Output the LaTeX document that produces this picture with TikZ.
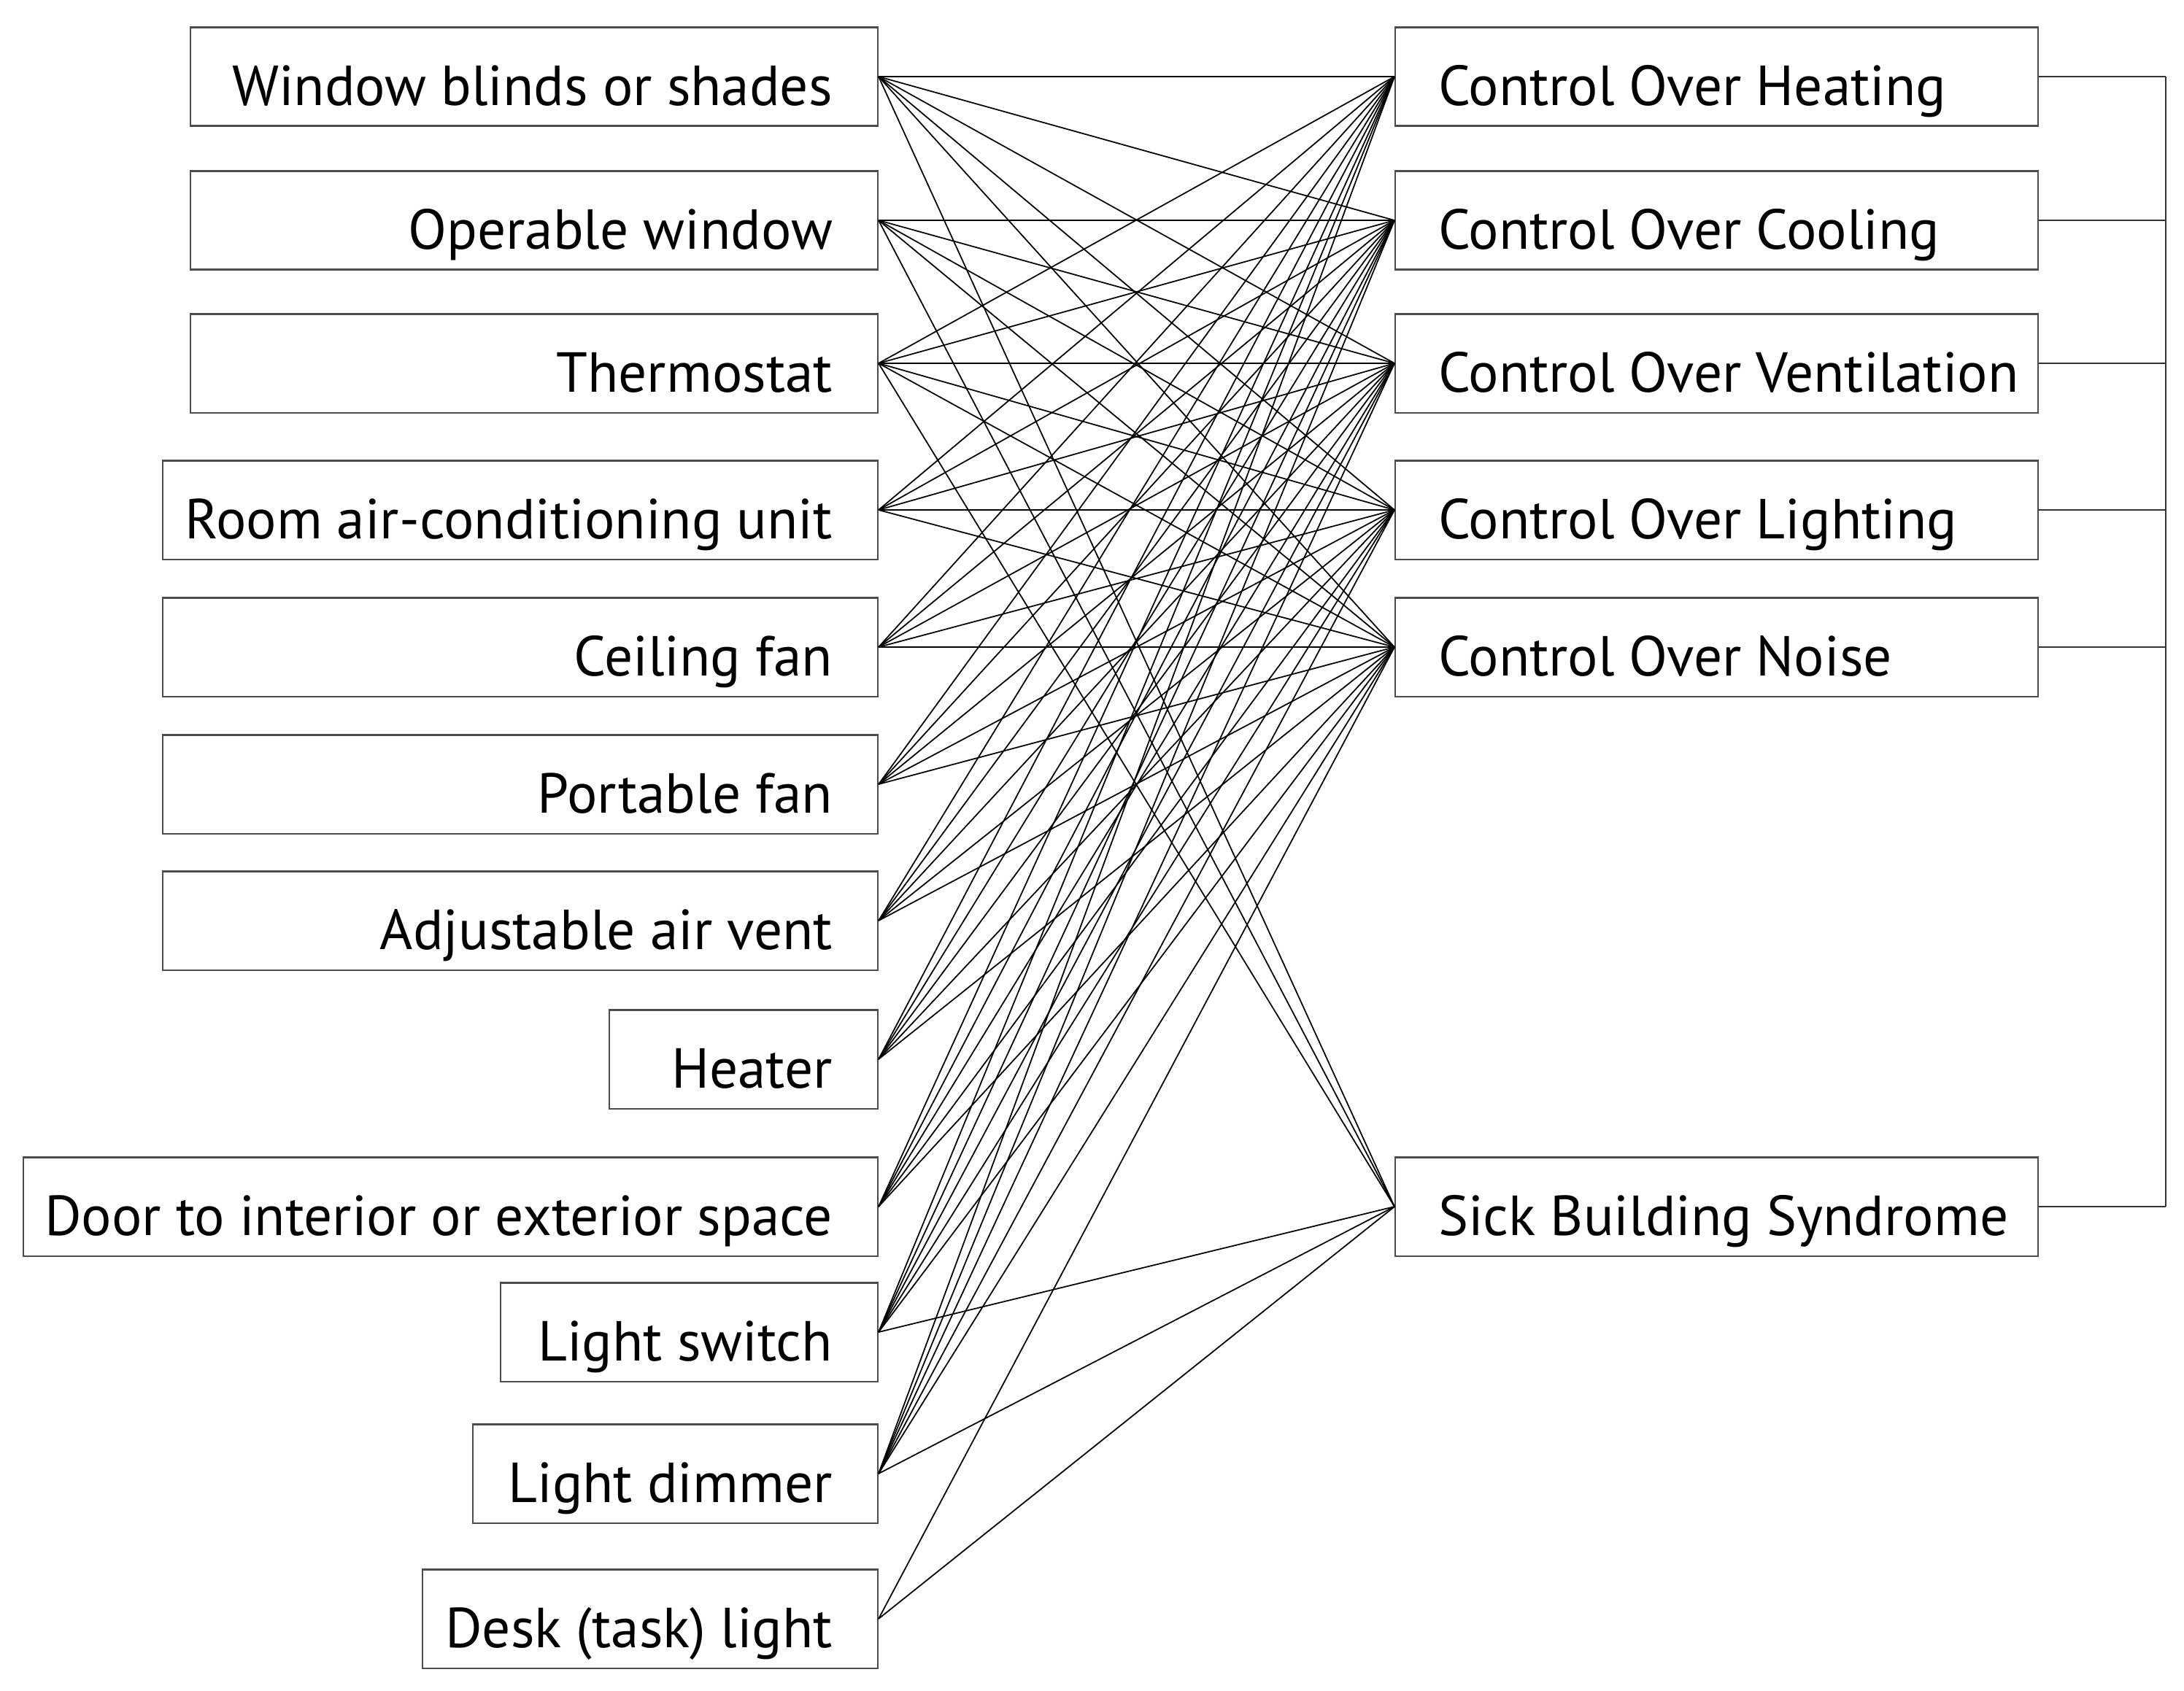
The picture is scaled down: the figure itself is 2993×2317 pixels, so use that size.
\documentclass[tikz,border=0pt]{standalone}
\usepackage{fontspec}
\setmainfont{PT Sans}
\usetikzlibrary{positioning}

\begin{document}
\begin{tikzpicture}[x=0.01cm, y=-0.01cm,
	cause/.style={rectangle, draw=black!70, line width=0.6pt, anchor=east,
		inner ysep=0cm, text height=1.065cm, text depth=0.285cm,
		inner xsep=0.62cm, text width=#1,
		execute at begin node={\spaceskip=0.26em\relax\hbox to \hsize\bgroup\hss},
		execute at end node={\egroup},
		font=\fontsize{22}{26}\selectfont},
	effect/.style={rectangle, draw=black!70, line width=0.6pt, anchor=west,
		inner ysep=0cm, text height=1.065cm, text depth=0.285cm,
		inner xsep=0.59cm, text width=7.62cm,
		execute at begin node={\spaceskip=0.26em\relax\hbox to \hsize\bgroup},
		execute at end node={\hss\egroup},
		font=\fontsize{22}{26}\selectfont},
	link/.style={draw, line width=0.5pt},
	bracket/.style={draw=black!80, line width=0.6pt}]

	\useasboundingbox (0,0) rectangle (2993,2317);

	% Controls
	\node[cause=8.17cm] (blinds) at (1204,105) {Window blinds or shades};
	\node[cause=8.17cm] (window) at (1204,302) {Operable window};
	\node[cause=8.17cm] (thermo) at (1204,498) {Thermostat};
	\node[cause=8.55cm] (aircon) at (1204,699) {Room air-conditioning unit};
	\node[cause=8.55cm] (ceiling) at (1204,887) {Ceiling fan};
	\node[cause=8.55cm] (portable) at (1204,1075) {Portable fan};
	\node[cause=8.55cm] (airvent) at (1204,1262) {Adjustable air vent};
	\node[cause=2.44cm] (heater) at (1204,1452) {Heater};
	\node[cause=10.46cm] (door) at (1204,1654) {Door to interior or exterior space};
	\node[cause=3.93cm] (switch) at (1204,1826) {Light switch};
	\node[cause=4.31cm] (dimmer) at (1204,2020) {Light dimmer};
	\node[cause=5.00cm] (desk) at (1204,2219) {Desk (task) light};

	% Outcomes
	\node[effect] (heat) at (1911,105) {Control Over Heating};
	\node[effect] (cool) at (1911,302) {Control Over Cooling};
	\node[effect] (vent) at (1911,498) {Control Over Ventilation};
	\node[effect] (light) at (1911,699) {Control Over Lighting};
	\node[effect] (noise) at (1911,887) {Control Over Noise};
	\node[effect] (sbs) at (1911,1654) {Sick Building Syndrome};

	% Links
	\foreach \t in {heat,cool,vent,light,noise,sbs} \path[link] (blinds.east) to (\t.west);
	\foreach \t in {cool,vent,light,noise,sbs} \path[link] (window.east) to (\t.west);
	\foreach \t in {heat,cool,vent,light,noise,sbs} \path[link] (thermo.east) to (\t.west);
	\foreach \t in {heat,cool,vent,light,noise} \path[link] (aircon.east) to (\t.west);
	\foreach \t in {heat,cool,vent,light,noise} \path[link] (ceiling.east) to (\t.west);
	\foreach \t in {heat,cool,vent,light,noise} \path[link] (portable.east) to (\t.west);
	\foreach \t in {heat,cool,vent,light,noise} \path[link] (airvent.east) to (\t.west);
	\foreach \t in {heat,cool,vent,light,noise} \path[link] (heater.east) to (\t.west);
	\foreach \t in {heat,cool,vent,light,noise} \path[link] (door.east) to (\t.west);
	\foreach \t in {heat,cool,vent,light,noise,sbs} \path[link] (switch.east) to (\t.west);
	\foreach \t in {heat,cool,vent,light,noise,sbs} \path[link] (dimmer.east) to (\t.west);
	\foreach \t in {noise,sbs} \path[link] (desk.east) to (\t.west);

	% Bracket
	\coordinate[right = 1.74cm of heat.east] (b1);
	\coordinate (b6) at (sbs.east -| b1);
	\foreach \t in {heat,cool,vent,light,noise,sbs} \path[bracket] (\t.east) to (\t.east -| b1);
	\path[bracket] (b1) to (b6);
\end{tikzpicture}
\end{document}
